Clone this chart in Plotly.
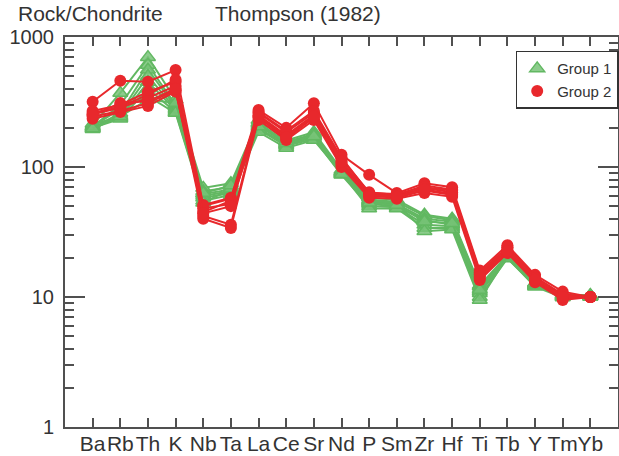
import plotly.graph_objects as go

elements = ["Ba", "Rb", "Th", "K", "Nb", "Ta", "La", "Ce", "Sr", "Nd", "P",
            "Sm", "Zr", "Hf", "Ti", "Tb", "Y", "Tm", "Yb"]

# Group 1 (green triangles), one list per sample, values per element
group1 = [
    [210, 371, 700, 330, 69, 75, 230, 160, 185, 95, 58, 56, 43, 40, 12.3, 21.0, 12.8, 10.5, 10.2],
    [205, 300, 610, 300, 65, 70, 220, 155, 180, 93, 56, 54, 42, 39, 12.0, 20.8, 12.6, 10.3, 10.3],
    [200, 260, 560, 290, 62, 67, 210, 150, 176, 91, 54, 52, 40, 38, 11.5, 20.5, 12.4, 10.2, 10.2],
    [195, 250, 500, 280, 60, 65, 200, 148, 170, 89, 52, 50, 39, 36, 11.0, 20.3, 12.2, 10.0, 10.1],
    [215, 240, 450, 274, 58, 63, 195, 145, 165, 87, 50, 49, 36, 35, 10.7, 20.0, 12.0, 9.9, 10.0],
    [200, 235, 400, 265, 55, 61, 186, 140, 161, 90, 48, 48, 34, 34, 10.0, 19.8, 12.3, 10.1, 10.2],
    [205, 280, 350, 260, 53, 68, 215, 152, 175, 92, 55, 53, 32, 33, 9.5, 20.5, 12.5, 10.4, 10.3],
    [198, 245, 330, 310, 63, 72, 205, 158, 172, 88, 53, 51, 38, 37, 11.3, 21.2, 12.7, 10.2, 10.1],
]

# Group 2 (red circles)
group2 = [
    [318, 461, 453, 557, 51, 58, 274, 200, 309, 124, 87, 63, 75, 70, 16.0, 25.0, 14.8, 11.0, 10.0],
    [270, 300, 380, 450, 45, 55, 260, 185, 260, 115, 64, 61, 72, 67, 15.5, 24.0, 14.3, 10.5, 10.0],
    [255, 285, 340, 420, 42, 36, 250, 175, 251, 108, 62, 60, 69, 64, 14.8, 23.0, 13.5, 10.1, 10.0],
    [245, 270, 310, 390, 40, 34, 240, 165, 240, 104, 60, 58, 66, 61, 14.0, 22.0, 13.2, 9.8, 10.0],
    [235, 265, 295, 380, 48, 52, 230, 161, 230, 100, 58, 57, 63, 59, 13.5, 21.8, 13.0, 9.5, 10.0],
    [260, 290, 360, 470, 50, 57, 265, 190, 270, 118, 63, 62, 70, 66, 15.0, 24.0, 14.0, 10.3, 10.0],
    [250, 310, 320, 400, 44, 50, 245, 170, 245, 110, 61, 59, 67, 62, 14.3, 22.5, 13.6, 10.0, 10.0],
]

y_ticks = [1, 10, 100, 1000]
y_ticktext = ["1", "10", "100", "1000"]

GREEN_LINE = "#62b862"
GREEN_FILL = "rgba(120,195,120,0.85)"
RED = "#e8282c"
AXIS = "#505050"
TEXT = "#333333"
FONT = "Liberation Sans, Arial, sans-serif"

xs = list(range(len(elements)))
fig = go.Figure()

g1_marker = dict(symbol="triangle-up", size=13, color=GREEN_FILL,
                 line=dict(color=GREEN_LINE, width=1.5))
g2_marker = dict(symbol="circle", size=12, color=RED, line=dict(color=RED, width=0))

for s in group1:
    fig.add_trace(go.Scatter(
        x=xs, y=s, mode="lines+markers", showlegend=False,
        line=dict(color=GREEN_LINE, width=2), marker=g1_marker,
    ))

for s in group2:
    fig.add_trace(go.Scatter(
        x=xs, y=s, mode="lines+markers", showlegend=False,
        line=dict(color=RED, width=2), marker=g2_marker,
    ))

# legend entries (markers only)
fig.add_trace(go.Scatter(x=[None], y=[None], mode="markers", name="Group 1",
                         marker=g1_marker))
fig.add_trace(go.Scatter(x=[None], y=[None], mode="markers", name="Group 2",
                         marker=g2_marker))

minor_vals = [m * 10 ** e for e in range(0, 3) for m in range(2, 10)]

fig.update_layout(
    width=619, height=456,
    margin=dict(l=65, r=1, t=37, b=29, autoexpand=False),
    paper_bgcolor="white", plot_bgcolor="white",
    font=dict(family=FONT, size=20, color=TEXT),
    showlegend=True,
    legend=dict(
        x=0.815, y=0.965, xanchor="left", yanchor="top",
        bordercolor="#333333", borderwidth=1.5, bgcolor="white",
        font=dict(family=FONT, size=15, color=TEXT),
        itemwidth=30, tracegroupgap=2,
    ),
    xaxis=dict(
        range=[-1, 19], tickmode="array", tickvals=xs, ticktext=elements,
        tickangle=0, automargin=False, ticklabelstandoff=-3,
        showline=True, linecolor=AXIS, linewidth=2, mirror="ticks",
        ticks="inside", ticklen=9, tickwidth=1.5, tickcolor=AXIS,
        showgrid=False, zeroline=False,
        tickfont=dict(family=FONT, size=21, color=TEXT),
    ),
    yaxis=dict(
        type="log", range=[0, 3], tickmode="array", tickvals=y_ticks,
        ticktext=y_ticktext, automargin=False,
        showline=True, linecolor=AXIS, linewidth=2, mirror="ticks",
        ticks="inside", ticklen=20, tickwidth=2, tickcolor=AXIS,
        minor=dict(tickmode="array", tickvals=minor_vals, ticks="inside",
                   ticklen=9, tickwidth=2, tickcolor=AXIS, showgrid=False),
        showgrid=False, zeroline=False, ticklabelstandoff=5,
        tickfont=dict(family=FONT, size=20, color=TEXT),
    ),
    annotations=[
        dict(text="Rock/Chondrite", xref="paper", yref="paper",
             x=-0.089, y=1.059, xanchor="left", yanchor="middle",
             showarrow=False, font=dict(family=FONT, size=21, color=TEXT)),
        dict(text="Thompson (1982)", xref="paper", yref="paper",
             x=0.268, y=1.059, xanchor="left", yanchor="middle",
             showarrow=False, font=dict(family=FONT, size=21, color=TEXT)),
    ],
)

fig.write_html("out.html")
